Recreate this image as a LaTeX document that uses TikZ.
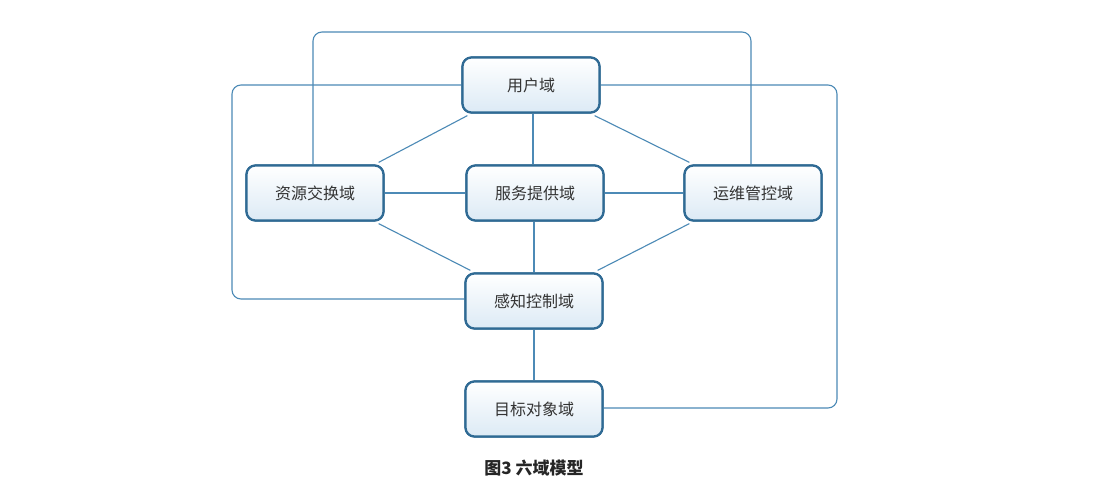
\documentclass[tikz,border=0pt]{standalone}
\usepackage{fontspec}
\newfontfamily\cjk{Noto Sans CJK SC}
\begin{document}
\begin{tikzpicture}[x=1pt,y=-1pt,
 box/.style={draw=bordc,line width=2.2pt,rounded corners=9pt,top color=white,bottom color=fillc,minimum width=137pt,minimum height=55pt,font=\cjk\fontsize{16}{16}\selectfont,text=black!80},
 ln/.style={draw=linec,line width=1.1pt},
 loop/.style={ln,rounded corners=9pt}]
\definecolor{bordc}{HTML}{2F6A94}
\definecolor{fillc}{HTML}{DCEAF5}
\definecolor{linec}{HTML}{4C8AB6}
\useasboundingbox (0,0) rectangle (1108,500);
\fill[white] (0,0) rectangle (1108,500);
\coordinate (c1) at (313,32); \coordinate (c2) at (751,32);
\coordinate (c3) at (232,85); \coordinate (c4) at (232,299);
\coordinate (c5) at (837,85); \coordinate (c6) at (837,408);
\node[box] (u) at (531,85) {用户域};
\node[box] (r) at (315,193) {资源交换域};
\node[box] (s) at (535,193) {服务提供域};
\node[box] (o) at (753,193) {运维管控域};
\node[box] (p) at (534,301) {感知控制域};
\node[box] (t) at (534,409) {目标对象域};
\begin{scope}[on background layer/.try]
\end{scope}
\draw[loop] (r.north -| c1) |- (c2) -- (o.north -| c2);
\draw[loop] (u.west) -- (c3) -- (c4) -- (p.west |- c4);
\draw[loop] (u.east) -- (c5) -- (c6) -- (t.east |- c6);
\draw[ln] ([xshift=6pt,yshift=-2pt]u.south west) -- ([xshift=-6pt,yshift=2pt]r.north east);
\draw[ln] ([xshift=-6pt,yshift=-2pt]u.south east) -- ([xshift=6pt,yshift=2pt]o.north west);
\draw[ln] ([xshift=-6pt,yshift=-2pt]r.south east) -- ([xshift=6pt,yshift=2pt]p.north west);
\draw[ln] ([xshift=6pt,yshift=-2pt]o.south west) -- ([xshift=-6pt,yshift=2pt]p.north east);
\draw[ln] (u.south -| 533,0) -- (s.north -| 533,0);
\draw[ln] (s.south -| 534,0) -- (p.north -| 534,0);
\draw[ln] (p) -- (t);
\draw[ln] (r) -- (s); \draw[ln] (s) -- (o);
\node[box] at (531,85) {用户域};
\node[box] at (315,193) {资源交换域};
\node[box] at (535,193) {服务提供域};
\node[box] at (753,193) {运维管控域};
\node[box] at (534,301) {感知控制域};
\node[box] at (534,409) {目标对象域};
\node[font=\cjk\bfseries\fontsize{17}{17}\selectfont,text=black!85] (cap) at (534,468) {图3 六域模型};
\end{tikzpicture}
\end{document}
